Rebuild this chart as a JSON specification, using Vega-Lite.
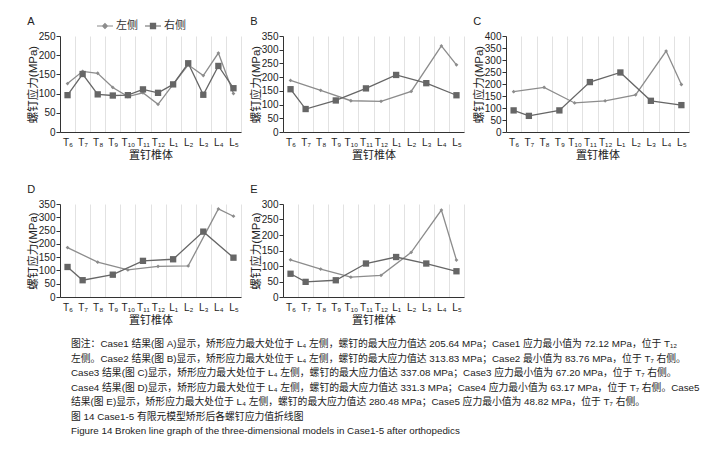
{
  "$schema": "https://vega.github.io/schema/vega-lite/v6.json",
  "padding": {"left": 27, "top": 16, "right": 5, "bottom": 5},
  "background": "white",
  "datasets": {
    "A": [
      {"v": "T₆", "side": "左侧", "s": 126}, {"v": "T₇", "side": "左侧", "s": 158}, {"v": "T₈", "side": "左侧", "s": 153}, {"v": "T₉", "side": "左侧", "s": 116},
      {"v": "T₁₀", "side": "左侧", "s": 92}, {"v": "T₁₁", "side": "左侧", "s": 102}, {"v": "T₁₂", "side": "左侧", "s": 72.12}, {"v": "L₁", "side": "左侧", "s": 124},
      {"v": "L₂", "side": "左侧", "s": 175}, {"v": "L₃", "side": "左侧", "s": 147}, {"v": "L₄", "side": "左侧", "s": 205.64}, {"v": "L₅", "side": "左侧", "s": 100},
      {"v": "T₆", "side": "右侧", "s": 96}, {"v": "T₇", "side": "右侧", "s": 151}, {"v": "T₈", "side": "右侧", "s": 98}, {"v": "T₉", "side": "右侧", "s": 95},
      {"v": "T₁₀", "side": "右侧", "s": 96}, {"v": "T₁₁", "side": "右侧", "s": 111}, {"v": "T₁₂", "side": "右侧", "s": 102}, {"v": "L₁", "side": "右侧", "s": 124},
      {"v": "L₂", "side": "右侧", "s": 179}, {"v": "L₃", "side": "右侧", "s": 97}, {"v": "L₄", "side": "右侧", "s": 172}, {"v": "L₅", "side": "右侧", "s": 114}
    ],
    "B": [
      {"v": "T₆", "side": "左侧", "s": 188}, {"v": "T₈", "side": "左侧", "s": 152}, {"v": "T₁₀", "side": "左侧", "s": 114}, {"v": "T₁₂", "side": "左侧", "s": 112},
      {"v": "L₂", "side": "左侧", "s": 148}, {"v": "L₄", "side": "左侧", "s": 313.83}, {"v": "L₅", "side": "左侧", "s": 245},
      {"v": "T₆", "side": "右侧", "s": 156}, {"v": "T₇", "side": "右侧", "s": 83.76}, {"v": "T₉", "side": "右侧", "s": 115}, {"v": "T₁₁", "side": "右侧", "s": 159},
      {"v": "L₁", "side": "右侧", "s": 208}, {"v": "L₃", "side": "右侧", "s": 178}, {"v": "L₅", "side": "右侧", "s": 134}
    ],
    "C": [
      {"v": "T₆", "side": "左侧", "s": 168}, {"v": "T₈", "side": "左侧", "s": 186}, {"v": "T₁₀", "side": "左侧", "s": 121}, {"v": "T₁₂", "side": "左侧", "s": 130},
      {"v": "L₂", "side": "左侧", "s": 155}, {"v": "L₄", "side": "左侧", "s": 337.08}, {"v": "L₅", "side": "左侧", "s": 198},
      {"v": "T₆", "side": "右侧", "s": 90}, {"v": "T₇", "side": "右侧", "s": 67.2}, {"v": "T₉", "side": "右侧", "s": 90}, {"v": "T₁₁", "side": "右侧", "s": 208},
      {"v": "L₁", "side": "右侧", "s": 248}, {"v": "L₃", "side": "右侧", "s": 130}, {"v": "L₅", "side": "右侧", "s": 112}
    ],
    "D": [
      {"v": "T₆", "side": "左侧", "s": 186}, {"v": "T₈", "side": "左侧", "s": 131}, {"v": "T₁₀", "side": "左侧", "s": 102}, {"v": "T₁₂", "side": "左侧", "s": 115},
      {"v": "L₂", "side": "左侧", "s": 117}, {"v": "L₄", "side": "左侧", "s": 331.3}, {"v": "L₅", "side": "左侧", "s": 304},
      {"v": "T₆", "side": "右侧", "s": 113}, {"v": "T₇", "side": "右侧", "s": 63.17}, {"v": "T₉", "side": "右侧", "s": 84}, {"v": "T₁₁", "side": "右侧", "s": 136},
      {"v": "L₁", "side": "右侧", "s": 142}, {"v": "L₃", "side": "右侧", "s": 246}, {"v": "L₅", "side": "右侧", "s": 148}
    ],
    "E": [
      {"v": "T₆", "side": "左侧", "s": 120}, {"v": "T₈", "side": "左侧", "s": 90}, {"v": "T₁₀", "side": "左侧", "s": 64}, {"v": "T₁₂", "side": "左侧", "s": 70},
      {"v": "L₂", "side": "左侧", "s": 144}, {"v": "L₄", "side": "左侧", "s": 280.48}, {"v": "L₅", "side": "左侧", "s": 119},
      {"v": "T₆", "side": "右侧", "s": 75}, {"v": "T₇", "side": "右侧", "s": 48.82}, {"v": "T₉", "side": "右侧", "s": 54}, {"v": "T₁₁", "side": "右侧", "s": 108},
      {"v": "L₁", "side": "右侧", "s": 129}, {"v": "L₃", "side": "右侧", "s": 108}, {"v": "L₅", "side": "右侧", "s": 83}
    ]
  },
  "title": {
    "text": [
      "图注：Case1 结果(图 A)显示，矫形应力最大处位于 L₄ 左侧，螺钉的最大应力值达 205.64  MPa；Case1 应力最小值为 72.12  MPa，位于 T₁₂",
      "左侧。Case2 结果(图 B)显示，矫形应力最大处位于 L₄ 左侧，螺钉的最大应力值达 313.83 MPa；Case2 最小值为 83.76 MPa，位于 T₇ 右侧。",
      "Case3 结果(图 C)显示，矫形应力最大处位于 L₄ 左侧，螺钉的最大应力值达 337.08  MPa；Case3 应力最小值为 67.20  MPa，位于 T₇ 右侧。",
      "Case4 结果(图 D)显示，矫形应力最大处位于 L₄ 左侧，螺钉的最大应力值达 331.3 MPa；Case4 应力最小值为 63.17 MPa，位于 T₇ 右侧。Case5",
      "结果(图 E)显示，矫形应力最大处位于 L₄ 左侧，螺钉的最大应力值达 280.48 MPa；Case5 应力最小值为 48.82 MPa，位于 T₇ 右侧。",
      "图 14   Case1-5 有限元模型矫形后各螺钉应力值折线图",
      "Figure 14   Broken line graph of the three-dimensional models in Case1-5 after orthopedics"
    ],
    "orient": "bottom",
    "anchor": "start",
    "frame": "group",
    "align": "left",
    "fontSize": 9.8,
    "lineHeight": 14.5,
    "fontWeight": "normal",
    "color": "#222222",
    "offset": 14,
    "dx": 11,
    "font": "Liberation Sans, Noto Sans CJK SC"
  },
  "vconcat": [
    {
      "hconcat": [
        {
          "width": 181, "height": 96,
          "title": {"text": "A"},
          "data": {"name": "A"},
          "encoding": {
            "x": {"field": "v", "type": "ordinal", "sort": ["T₆","T₇","T₈","T₉","T₁₀","T₁₁","T₁₂","L₁","L₂","L₃","L₄","L₅"], "bandPosition": 0.5,
                  "scale": {"type": "band", "paddingInner": 0, "paddingOuter": 0},
                  "axis": {"title": "置钉椎体"}},
            "y": {"field": "s", "type": "quantitative", "scale": {"domain": [0, 250]}, "axis": {"values": [0, 50, 100, 150, 200, 250], "title": "螺钉应力(MPa)"}},
            "color": {"field": "side", "type": "nominal", "scale": {"domain": ["左侧", "右侧"], "range": ["#8c8c8c", "#666666"]},
                      "legend": {"title": null, "orient": "none", "legendX": 36, "legendY": -19,
                                 "encode": {"symbols": {"update": {"shape": {"signal": "datum.value === '左侧' ? 'M-1,0H1M0,-0.3L0.3,0L0,0.3L-0.3,0Z' : 'M-1,0H1M-0.32,-0.32H0.32V0.32H-0.32Z'"},
                                                        "fill": {"signal": "datum.value === '左侧' ? '#8c8c8c' : '#666666'"},
                                                        "stroke": {"signal": "datum.value === '左侧' ? '#8c8c8c' : '#666666'"},
                                                        "size": {"value": 256}, "strokeWidth": {"value": 1.2}, "opacity": {"value": 1}}}}}}
          },
          "layer": [
            {"mark": {"type": "line", "strokeWidth": 1.3}},
            {"transform": [{"filter": "datum.side === '左侧'"}], "mark": {"type": "point", "filled": true, "opacity": 1, "size": 40, "shape": "M0,-0.6L0.6,0L0,0.6L-0.6,0Z"}},
            {"transform": [{"filter": "datum.side === '右侧'"}], "mark": {"type": "point", "filled": true, "opacity": 1, "size": 40, "shape": "square"}}
          ]
        },
        {
          "width": 181, "height": 96,
          "title": {"text": "B"},
          "data": {"name": "B"},
          "encoding": {
            "x": {"field": "v", "type": "ordinal", "sort": ["T₆","T₇","T₈","T₉","T₁₀","T₁₁","T₁₂","L₁","L₂","L₃","L₄","L₅"], "bandPosition": 0.5,
                  "scale": {"type": "band", "paddingInner": 0, "paddingOuter": 0},
                  "axis": {"title": "置钉椎体"}},
            "y": {"field": "s", "type": "quantitative", "scale": {"domain": [0, 350]}, "axis": {"values": [0, 50, 100, 150, 200, 250, 300, 350], "title": "螺钉应力(MPa)"}},
            "color": {"field": "side", "type": "nominal", "scale": {"domain": ["左侧", "右侧"], "range": ["#8c8c8c", "#666666"]},
                      "legend": {"title": null, "orient": "none", "legendX": 37, "legendY": -19,
                                 "encode": {"symbols": {"update": {"shape": {"signal": "datum.value === '左侧' ? 'M-1,0H1M0,-0.3L0.3,0L0,0.3L-0.3,0Z' : 'M-1,0H1M-0.32,-0.32H0.32V0.32H-0.32Z'"},
                                                        "fill": {"signal": "datum.value === '左侧' ? '#8c8c8c' : '#666666'"},
                                                        "stroke": {"signal": "datum.value === '左侧' ? '#8c8c8c' : '#666666'"},
                                                        "size": {"value": 256}, "strokeWidth": {"value": 1.2}, "opacity": {"value": 1}}}}}}
          },
          "layer": [
            {"mark": {"type": "line", "strokeWidth": 1.3}},
            {"transform": [{"filter": "datum.side === '左侧'"}], "mark": {"type": "point", "filled": true, "opacity": 1, "size": 40, "shape": "M0,-0.6L0.6,0L0,0.6L-0.6,0Z"}},
            {"transform": [{"filter": "datum.side === '右侧'"}], "mark": {"type": "point", "filled": true, "opacity": 1, "size": 40, "shape": "square"}}
          ]
        },
        {
          "width": 183, "height": 96,
          "title": {"text": "C"},
          "data": {"name": "C"},
          "encoding": {
            "x": {"field": "v", "type": "ordinal", "sort": ["T₆","T₇","T₈","T₉","T₁₀","T₁₁","T₁₂","L₁","L₂","L₃","L₄","L₅"], "bandPosition": 0.5,
                  "scale": {"type": "band", "paddingInner": 0, "paddingOuter": 0},
                  "axis": {"title": "置钉椎体"}},
            "y": {"field": "s", "type": "quantitative", "scale": {"domain": [0, 400]}, "axis": {"values": [0, 50, 100, 150, 200, 250, 300, 350, 400], "title": "螺钉应力(MPa)"}},
            "color": {"field": "side", "type": "nominal", "scale": {"domain": ["左侧", "右侧"], "range": ["#8c8c8c", "#666666"]},
                      "legend": {"title": null, "orient": "none", "legendX": 40, "legendY": -19,
                                 "encode": {"symbols": {"update": {"shape": {"signal": "datum.value === '左侧' ? 'M-1,0H1M0,-0.3L0.3,0L0,0.3L-0.3,0Z' : 'M-1,0H1M-0.32,-0.32H0.32V0.32H-0.32Z'"},
                                                        "fill": {"signal": "datum.value === '左侧' ? '#8c8c8c' : '#666666'"},
                                                        "stroke": {"signal": "datum.value === '左侧' ? '#8c8c8c' : '#666666'"},
                                                        "size": {"value": 256}, "strokeWidth": {"value": 1.2}, "opacity": {"value": 1}}}}}}
          },
          "layer": [
            {"mark": {"type": "line", "strokeWidth": 1.3}},
            {"transform": [{"filter": "datum.side === '左侧'"}], "mark": {"type": "point", "filled": true, "opacity": 1, "size": 40, "shape": "M0,-0.6L0.6,0L0,0.6L-0.6,0Z"}},
            {"transform": [{"filter": "datum.side === '右侧'"}], "mark": {"type": "point", "filled": true, "opacity": 1, "size": 40, "shape": "square"}}
          ]
        }
      ],
      "spacing": 42,
      "bounds": "flush"
    },
    {
      "hconcat": [
        {
          "width": 181, "height": 93,
          "title": {"text": "D"},
          "data": {"name": "D"},
          "encoding": {
            "x": {"field": "v", "type": "ordinal", "sort": ["T₆","T₇","T₈","T₉","T₁₀","T₁₁","T₁₂","L₁","L₂","L₃","L₄","L₅"], "bandPosition": 0.5,
                  "scale": {"type": "band", "paddingInner": 0, "paddingOuter": 0},
                  "axis": {"title": "置钉椎体"}},
            "y": {"field": "s", "type": "quantitative", "scale": {"domain": [0, 350]}, "axis": {"values": [0, 50, 100, 150, 200, 250, 300, 350], "title": "螺钉应力(MPa)"}},
            "color": {"field": "side", "type": "nominal", "scale": {"domain": ["左侧", "右侧"], "range": ["#8c8c8c", "#666666"]},
                      "legend": {"title": null, "orient": "none", "legendX": 41, "legendY": -18,
                                 "encode": {"symbols": {"update": {"shape": {"signal": "datum.value === '左侧' ? 'M-1,0H1M0,-0.3L0.3,0L0,0.3L-0.3,0Z' : 'M-1,0H1M-0.32,-0.32H0.32V0.32H-0.32Z'"},
                                                        "fill": {"signal": "datum.value === '左侧' ? '#8c8c8c' : '#666666'"},
                                                        "stroke": {"signal": "datum.value === '左侧' ? '#8c8c8c' : '#666666'"},
                                                        "size": {"value": 256}, "strokeWidth": {"value": 1.2}, "opacity": {"value": 1}}}}}}
          },
          "layer": [
            {"mark": {"type": "line", "strokeWidth": 1.3}},
            {"transform": [{"filter": "datum.side === '左侧'"}], "mark": {"type": "point", "filled": true, "opacity": 1, "size": 40, "shape": "M0,-0.6L0.6,0L0,0.6L-0.6,0Z"}},
            {"transform": [{"filter": "datum.side === '右侧'"}], "mark": {"type": "point", "filled": true, "opacity": 1, "size": 40, "shape": "square"}}
          ]
        },
        {
          "width": 181, "height": 93,
          "title": {"text": "E"},
          "data": {"name": "E"},
          "encoding": {
            "x": {"field": "v", "type": "ordinal", "sort": ["T₆","T₇","T₈","T₉","T₁₀","T₁₁","T₁₂","L₁","L₂","L₃","L₄","L₅"], "bandPosition": 0.5,
                  "scale": {"type": "band", "paddingInner": 0, "paddingOuter": 0},
                  "axis": {"title": "置钉椎体"}},
            "y": {"field": "s", "type": "quantitative", "scale": {"domain": [0, 300]}, "axis": {"values": [0, 50, 100, 150, 200, 250, 300], "title": "螺钉应力(MPa)"}},
            "color": {"field": "side", "type": "nominal", "scale": {"domain": ["左侧", "右侧"], "range": ["#8c8c8c", "#666666"]},
                      "legend": {"title": null, "orient": "none", "legendX": 39, "legendY": -18,
                                 "encode": {"symbols": {"update": {"shape": {"signal": "datum.value === '左侧' ? 'M-1,0H1M0,-0.3L0.3,0L0,0.3L-0.3,0Z' : 'M-1,0H1M-0.32,-0.32H0.32V0.32H-0.32Z'"},
                                                        "fill": {"signal": "datum.value === '左侧' ? '#8c8c8c' : '#666666'"},
                                                        "stroke": {"signal": "datum.value === '左侧' ? '#8c8c8c' : '#666666'"},
                                                        "size": {"value": 256}, "strokeWidth": {"value": 1.2}, "opacity": {"value": 1}}}}}}
          },
          "layer": [
            {"mark": {"type": "line", "strokeWidth": 1.3}},
            {"transform": [{"filter": "datum.side === '左侧'"}], "mark": {"type": "point", "filled": true, "opacity": 1, "size": 40, "shape": "M0,-0.6L0.6,0L0,0.6L-0.6,0Z"}},
            {"transform": [{"filter": "datum.side === '右侧'"}], "mark": {"type": "point", "filled": true, "opacity": 1, "size": 40, "shape": "square"}}
          ]
        }
      ],
      "spacing": 42,
      "bounds": "flush"
    }
  ],
  "spacing": 24,
  "config": {
    "view": {"stroke": null},
    "font": "Liberation Sans, Noto Sans CJK SC",
    "axis": {"domainColor": "#333333", "tickColor": "#333333", "labelColor": "#222222", "titleColor": "#222222",
             "labelFontSize": 10, "titleFontSize": 11, "titleFontWeight": "normal",
             "labelFont": "Liberation Sans, DejaVu Sans, Noto Sans CJK SC", "titleFont": "Liberation Sans, Noto Sans CJK SC"},
    "axisX": {"grid": true, "gridColor": "#e2e2e2", "tickBand": "extent", "ticks": false, "labelAngle": 0, "labelPadding": 5, "titlePadding": 2},
    "axisY": {"grid": false, "tickSize": 4, "labelPadding": 1, "titlePadding": 0, "titleFontSize": 11.5},
    "title": {"anchor": "start", "frame": "bounds", "fontSize": 11, "fontWeight": "normal", "color": "#222222", "font": "Liberation Sans"},
    "legend": {"labelFontSize": 11, "labelColor": "#333333", "labelFont": "Noto Sans CJK SC", "columnPadding": 4, "labelOffset": 2, "direction": "horizontal"}
  }
}
